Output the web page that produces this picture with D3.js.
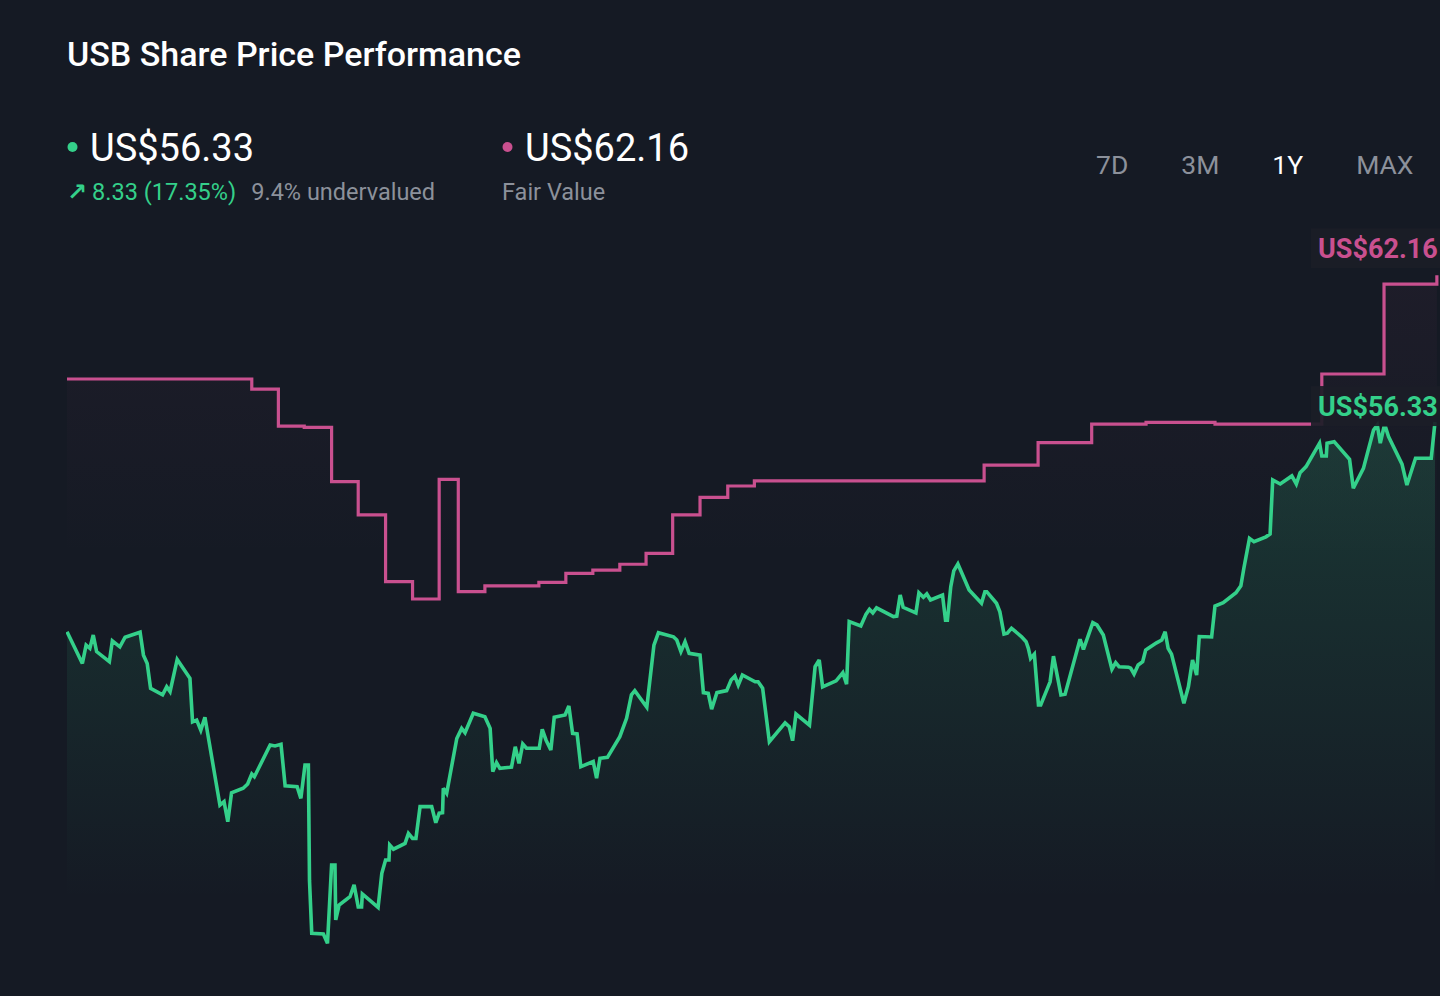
<!DOCTYPE html>
<html>
<head>
<meta charset="utf-8">
<script src="https://cdn.jsdelivr.net/npm/d3@7"></script>
<style>
  html, body { margin: 0; padding: 0; background: #151a24; }
  svg { display: block; }
  text { font-family: Roboto, "Noto Sans", "DejaVu Sans", sans-serif; }
</style>
</head>
<body>
<svg id="chart" width="1440" height="996"></svg>
<script>
// ---------- DATA ----------
const title = "USB Share Price Performance";
const lastPrice = 56.33;
const fairValue = 62.16;
const priceChange = "8.33 (17.35%)";
const valuationNote = "9.4% undervalued";
const fairLabel = "Fair Value";
const periods = ["7D", "3M", "1Y", "MAX"];
const activePeriod = "1Y";

// days since start of 1Y window
const priceDays = [0,4.1,5.1,6.1,7.0,7.9,11.3,12.1,14.1,15.5,19.5,20.4,21.4,22.3,25.5,26.6,27.5,29.4,32.8,33.5,34.6,35.7,36.8,39.8,40.8,41.9,42.9,43.9,47.0,48.2,49.3,50.0,54.2,55.5,57.1,58.2,61.4,62.4,63.5,64.4,64.7,65.3,68.4,69.5,70.6,71.5,71.7,72.6,75.5,76.6,77.7,78.6,78.8,83.0,84.0,85.0,85.9,86.1,87.1,90.2,91.1,92.2,93.1,94.2,97.3,98.4,99.3,100.2,100.4,101.3,104.0,105.3,106.2,108.4,111.5,112.9,113.6,114.6,115.5,118.6,119.6,120.6,121.6,122.6,126.0,126.8,127.8,129.1,130.0,132.9,133.9,134.9,136.1,137.1,140.4,141.3,142.2,144.2,147.5,149.3,150.6,151.5,154.7,156.6,157.8,161.8,162.7,163.8,164.9,166.0,168.9,169.8,171.1,172.0,173.4,176.0,177.2,178.2,179.1,180.2,183.6,184.4,185.6,187.4,191.6,192.7,193.6,194.5,198.1,199.6,200.7,201.6,205.2,207.0,208.0,208.7,211.8,213.2,214.1,215.0,216.0,220.5,221.4,222.3,223.1,226.5,227.3,228.5,229.4,230.4,233.6,234.4,234.9,235.8,236.6,237.7,240.7,244.0,244.9,245.4,248.0,248.9,250.0,250.9,252.0,254.7,255.9,256.5,257.1,258.1,259.2,259.8,262.3,263.2,265.2,266.3,270.3,271.2,273.7,274.8,276.5,278.8,279.8,280.7,283.2,283.8,284.7,285.8,287.0,287.8,288.5,290.7,292.1,293.0,293.8,294.7,298.0,299.2,300.3,301.4,302.1,305.4,306.3,308.5,311.9,313.2,314.0,315.5,316.7,319.9,321.0,321.7,323.7,326.8,328.0,329.0,330.6,334.2,334.8,336.0,336.2,338.1,342.2,343.2,345.9,348.6,349.6,350.4,351.3,351.9,352.6,356.2,357.5,359.8,364.0,365.0];
const priceValues = [48.00,46.74,47.47,47.34,47.87,47.21,46.81,47.64,47.40,47.78,47.98,47.07,46.74,45.75,45.49,45.81,45.62,46.90,46.15,44.42,44.49,44.09,44.60,41.98,41.11,41.25,40.45,41.60,41.78,41.95,42.35,42.24,43.50,43.46,43.53,41.88,41.84,41.38,42.70,42.70,38.13,36.02,35.99,35.62,38.73,38.73,36.55,37.14,37.47,37.94,37.07,37.07,37.58,37.05,38.40,38.93,38.93,39.53,39.36,39.59,39.99,39.79,39.79,41.05,41.05,40.41,40.79,40.81,41.78,41.58,43.76,44.16,43.99,44.76,44.62,44.16,42.44,42.80,42.57,42.62,43.43,42.77,43.54,43.37,43.37,44.12,43.70,43.30,44.60,44.69,45.05,43.96,43.94,42.64,42.84,42.18,42.97,43.01,43.83,44.56,45.49,45.66,45.00,47.47,47.96,47.80,47.67,47.21,47.60,47.14,47.07,45.58,45.55,44.92,45.58,45.66,46.08,46.24,45.88,46.28,46.01,46.01,45.76,43.63,44.38,44.23,43.67,44.73,44.29,46.61,46.88,45.81,46.05,46.37,45.92,48.40,48.23,48.70,48.89,48.75,48.95,48.60,48.62,49.46,48.97,48.75,49.55,49.37,49.50,49.26,49.46,48.46,48.46,49.79,50.42,50.69,49.66,49.13,49.59,49.59,49.13,48.79,47.91,47.94,48.14,47.80,47.60,47.34,46.94,47.11,45.09,45.09,46.01,47.03,45.49,45.52,47.70,47.30,48.36,48.27,47.87,46.51,46.77,46.61,46.59,46.55,46.32,46.68,46.81,47.27,47.34,47.56,47.67,48.00,47.34,47.11,45.16,45.81,46.88,46.28,47.81,47.79,49.02,49.15,49.55,49.82,50.52,51.71,51.58,51.77,51.88,54.03,53.87,54.19,53.87,54.32,54.56,55.49,54.98,54.98,55.49,55.55,54.85,53.70,54.49,56.01,56.21,55.49,56.08,56.08,55.75,54.66,53.83,54.89,54.89,56.33];

// fair value estimate changes (step after)
const fairDays = [0,49.3,56.4,63.3,70.6,77.7,85.0,92.2,99.3,104.4,111.5,125.9,133.1,140.3,147.5,154.5,161.6,168.9,176.3,183.4,244.7,259.1,273.4,287.9,306.3,334.8,351.4,365.5];
const fairValues = [58.04,57.64,56.17,56.12,53.96,52.64,49.99,49.30,54.05,49.59,49.82,49.96,50.32,50.45,50.68,51.11,52.64,53.34,53.79,53.99,54.62,55.51,56.25,56.32,56.25,58.24,61.81,62.16];

// ---------- LAYOUT ----------
const W = 1440, H = 996;
const C = {
  bg: "#151a24",
  green: "#34d08a",
  pink: "#c9508f",
  white: "#ffffff",
  grey: "#8c919b"
};
const svg = d3.select("#chart");
svg.append("rect").attr("width", W).attr("height", H).attr("fill", C.bg);

const x = d3.scaleLinear().domain([0, 365]).range([67, 1435]);
const y = d3.scaleLinear().domain([34, 64]).range([984.1, 229]);

const price = priceDays.map((d, i) => ({ d, v: priceValues[i] }));
const fair = fairDays.map((d, i) => ({ d, v: fairValues[i] }));

const defs = svg.append("defs");
defs.append("clipPath").attr("id", "plotClip")
  .append("rect").attr("x", 66).attr("y", 215).attr("width", W - 66).attr("height", 780);

const gGreen = defs.append("linearGradient").attr("id", "greenFill")
  .attr("x1", 0).attr("x2", 0)
  .attr("gradientUnits", "userSpaceOnUse")
  .attr("y1", y(d3.max(priceValues))).attr("y2", 900);
gGreen.append("stop").attr("offset", 0).attr("stop-color", C.green).attr("stop-opacity", 0.17);
gGreen.append("stop").attr("offset", 1).attr("stop-color", C.green).attr("stop-opacity", 0.0);

const gPink = defs.append("linearGradient").attr("id", "pinkFill")
  .attr("x1", 0).attr("x2", 0).attr("gradientUnits", "userSpaceOnUse")
  .attr("y1", y(d3.max(fairValues))).attr("y2", 560);
gPink.append("stop").attr("offset", 0).attr("stop-color", C.pink).attr("stop-opacity", 0.05);
gPink.append("stop").attr("offset", 1).attr("stop-color", C.pink).attr("stop-opacity", 0.0);

const plot = svg.append("g").attr("clip-path", "url(#plotClip)");

// fair value faint area
plot.append("path").datum(fair)
  .attr("fill", "url(#pinkFill)")
  .attr("d", d3.area().curve(d3.curveStepAfter).x(d => x(d.d)).y0(900).y1(d => y(d.v)));

// price area
plot.append("path").datum(price)
  .attr("fill", "url(#greenFill)")
  .attr("d", d3.area().x(d => x(d.d)).y0(900).y1(d => y(d.v)));

// fair value line
plot.append("path").datum(fair)
  .attr("fill", "none").attr("stroke", C.pink).attr("stroke-width", 3.2)
  .attr("d", d3.line().curve(d3.curveStepAfter).x(d => x(d.d)).y(d => y(d.v)));

// price line
plot.append("path").datum(price)
  .attr("fill", "none").attr("stroke", C.green).attr("stroke-width", 3.6)
  .attr("stroke-linejoin", "miter").attr("stroke-miterlimit", 3)
  .attr("d", d3.line().x(d => x(d.d)).y(d => y(d.v)));

// end labels
function endLabel(val, color, offset) {
  const yy = y(val) + offset;
  svg.append("rect").attr("x", 1311).attr("y", yy - 20).attr("width", 140).attr("height", 40)
    .attr("fill", "#1b1d27").attr("opacity", 0.92);
  svg.append("text").attr("x", 1318).attr("y", yy + 10)
    .attr("fill", color).attr("font-size", 27).attr("font-weight", 700)
    .text("US$" + val.toFixed(2));
}
endLabel(fairValue, C.pink, -27);
endLabel(lastPrice, C.green, -16);

// ---------- HEADER ----------
svg.append("text").attr("x", 67).attr("y", 66)
  .attr("fill", C.white).attr("font-size", 34).attr("font-weight", 500)
  .text(title);

svg.append("circle").attr("cx", 72.5).attr("cy", 147).attr("r", 5).attr("fill", C.green);
svg.append("text").attr("x", 90).attr("y", 161)
  .attr("fill", C.white).attr("font-size", 38).attr("font-weight", 400)
  .text("US$" + lastPrice.toFixed(2));

const sub = svg.append("text").attr("x", 67).attr("y", 200).attr("font-size", 23.5);
sub.append("tspan").attr("fill", C.green).attr("font-family", "DejaVu Sans").attr("font-weight", 700).attr("font-size", 24).text("↗");
sub.append("tspan").attr("fill", C.green).attr("dx", 5).text(priceChange);
sub.append("tspan").attr("fill", C.grey).attr("dx", 15).text(valuationNote);

svg.append("circle").attr("cx", 507.5).attr("cy", 147).attr("r", 5).attr("fill", C.pink);
svg.append("text").attr("x", 525).attr("y", 161)
  .attr("fill", C.white).attr("font-size", 38).attr("font-weight", 400)
  .text("US$" + fairValue.toFixed(2));
svg.append("text").attr("x", 502).attr("y", 200)
  .attr("fill", C.grey).attr("font-size", 23.5).text(fairLabel);

// period buttons, laid out left to right with equal gaps
let px = 1096;
periods.forEach(p => {
  const t = svg.append("text")
    .attr("x", px).attr("y", 174)
    .attr("font-size", 26.5)
    .attr("fill", p === activePeriod ? C.white : C.grey)
    .text(p);
  px += t.node().getComputedTextLength() + 53;
});
</script>
</body>
</html>
